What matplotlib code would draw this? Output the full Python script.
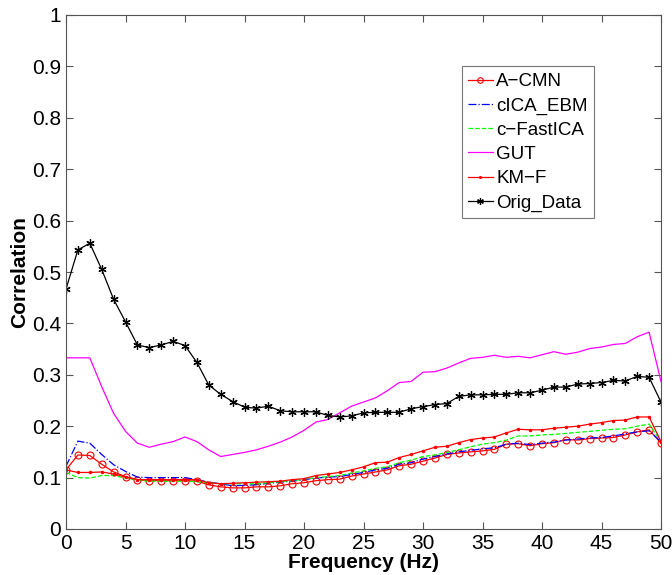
import numpy as np
import matplotlib
matplotlib.use("Agg")
import matplotlib.pyplot as plt

plt.rcParams['font.family'] = ['Liberation Sans', 'DejaVu Sans']

freq = list(range(0, 51))

a_cmn = [0.115, 0.144, 0.143, 0.126, 0.111, 0.102, 0.096, 0.094, 0.094, 0.094,
         0.094, 0.093, 0.086, 0.082, 0.080, 0.080, 0.082, 0.082, 0.084, 0.088,
         0.090, 0.094, 0.096, 0.097, 0.103, 0.107, 0.111, 0.115, 0.123, 0.126,
         0.132, 0.138, 0.145, 0.148, 0.150, 0.152, 0.155, 0.165, 0.166, 0.162,
         0.166, 0.168, 0.174, 0.173, 0.176, 0.177, 0.178, 0.183, 0.189, 0.193,
         0.167]

cica_ebm = [0.122, 0.171, 0.167, 0.145, 0.125, 0.112, 0.101, 0.100, 0.100, 0.100,
            0.100, 0.096, 0.091, 0.088, 0.084, 0.085, 0.086, 0.089, 0.091, 0.093,
            0.096, 0.099, 0.101, 0.102, 0.106, 0.110, 0.115, 0.118, 0.126, 0.129,
            0.136, 0.141, 0.146, 0.150, 0.153, 0.156, 0.158, 0.165, 0.167, 0.164,
            0.167, 0.169, 0.173, 0.175, 0.177, 0.178, 0.181, 0.185, 0.189, 0.191,
            0.170]

c_fastica = [0.110, 0.100, 0.099, 0.104, 0.104, 0.099, 0.095, 0.093, 0.093, 0.093,
             0.093, 0.092, 0.090, 0.088, 0.088, 0.088, 0.088, 0.090, 0.092, 0.094,
             0.097, 0.100, 0.102, 0.104, 0.109, 0.113, 0.118, 0.121, 0.129, 0.134,
             0.141, 0.144, 0.149, 0.154, 0.160, 0.165, 0.168, 0.173, 0.181, 0.181,
             0.183, 0.184, 0.186, 0.188, 0.190, 0.192, 0.194, 0.195, 0.200, 0.204,
             0.170]

gut = [0.333, 0.333, 0.333, 0.277, 0.225, 0.190, 0.167, 0.159, 0.165, 0.170,
       0.179, 0.170, 0.154, 0.141, 0.145, 0.149, 0.154, 0.161, 0.169, 0.179,
       0.192, 0.208, 0.213, 0.226, 0.239, 0.247, 0.255, 0.269, 0.285, 0.287,
       0.305, 0.306, 0.313, 0.323, 0.332, 0.334, 0.338, 0.334, 0.336, 0.333,
       0.339, 0.345, 0.340, 0.344, 0.351, 0.354, 0.359, 0.361, 0.374, 0.383,
       0.287]

km_f = [0.115, 0.110, 0.110, 0.111, 0.107, 0.101, 0.096, 0.096, 0.096, 0.096,
        0.096, 0.096, 0.090, 0.088, 0.089, 0.090, 0.091, 0.092, 0.093, 0.096,
        0.098, 0.104, 0.107, 0.110, 0.115, 0.121, 0.129, 0.130, 0.139, 0.145,
        0.152, 0.159, 0.161, 0.168, 0.174, 0.177, 0.179, 0.187, 0.194, 0.193,
        0.193, 0.196, 0.198, 0.200, 0.204, 0.207, 0.211, 0.212, 0.218, 0.218,
        0.170]

orig_data = [0.467, 0.543, 0.556, 0.505, 0.447, 0.403, 0.358, 0.353, 0.358, 0.365,
             0.357, 0.324, 0.280, 0.262, 0.248, 0.237, 0.235, 0.239, 0.230, 0.228,
             0.228, 0.228, 0.221, 0.218, 0.220, 0.226, 0.227, 0.227, 0.227, 0.234,
             0.238, 0.242, 0.244, 0.258, 0.261, 0.261, 0.262, 0.262, 0.265, 0.265,
             0.270, 0.276, 0.276, 0.282, 0.283, 0.285, 0.289, 0.288, 0.297, 0.295,
             0.247]

fig = plt.figure(figsize=(6.72, 5.75), dpi=100)
ax = fig.add_axes([66 / 672, 46 / 575, 595 / 672, 514 / 575])

ax.plot(freq, a_cmn, color="red", lw=0.9, marker="o", ms=5, mfc="none", mew=0.8, label="A\u2212CMN")
ax.plot(freq, cica_ebm, color="blue", lw=0.9, ls="-.", label="cICA_EBM")
ax.plot(freq, c_fastica, color="#00ff00", lw=0.9, ls="--", label="c\u2212FastICA")
ax.plot(freq, gut, color="magenta", lw=0.9, label="GUT")
ax.plot(freq, km_f, color="red", lw=0.9, marker=".", ms=3, label="KM\u2212F")
ax.plot(freq, orig_data, color="black", lw=0.9, marker=(6, 2, 0), ms=6, mew=0.9, label="Orig_Data")

ax.set_xlim(0, 50)
ax.set_ylim(0, 1)
ax.set_xticks(np.arange(0, 51, 5))
ax.set_yticks(np.arange(0, 1.01, 0.1))
ax.set_yticklabels(["0", "0.1", "0.2", "0.3", "0.4", "0.5", "0.6", "0.7", "0.8", "0.9", "1"])
ax.tick_params(direction="in", labelsize=15, top=True, right=True, length=5, color="#555555")
for s in ax.spines.values():
    s.set_color("#555555")

ax.set_xlabel("Frequency (Hz)", fontsize=15, fontweight="bold", labelpad=0)
ax.set_ylabel("Correlation", fontsize=15, fontweight="bold", labelpad=2)

leg = ax.legend(loc="upper left", bbox_to_anchor=(0.665, 0.9), fontsize=13.5, frameon=True,
                fancybox=False, handlelength=1.3, handletextpad=0.2, labelspacing=0.38,
                borderpad=0.35, borderaxespad=0, markerscale=0.8)
leg.get_frame().set_edgecolor("#555555")
leg.get_frame().set_linewidth(0.8)

fig.savefig("out.png", dpi=100)
